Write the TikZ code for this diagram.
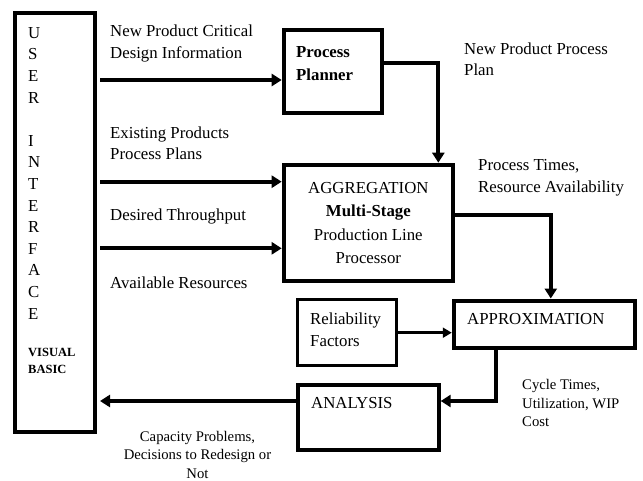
\documentclass[tikz,border=0pt]{standalone}
\usepackage{fontspec}
\setmainfont{Liberation Serif}
\usetikzlibrary{arrows.meta}
\tikzset{
  box/.style={draw, line width=4pt, inner sep=0pt},
  thinbox/.style={draw, line width=2.8pt, inner sep=0pt},
  flow/.style={line width=4pt, -{Triangle[length=10pt,width=12pt]}},
  thinflow/.style={line width=2.8pt, -{Triangle[length=9pt,width=10pt]}},
  txt/.style={inner sep=0pt, align=left, font=\fontsize{16.8}{21.6}\selectfont},
  smalltxt/.style={inner sep=0pt, font=\fontsize{14.7}{18.6}\selectfont},
}

\begin{document}
\begin{tikzpicture}[x=1pt,y=-1pt]
        \useasboundingbox (0,0) rectangle (643,481);
        % User interface column
        \node[box, minimum width=79.7pt, minimum height=419.7pt] (ui) at (55,222.6) {};
        \node[txt, anchor=north west] (uitxt) at (28,27) {U\\S\\E\\R\\[21.6pt]I\\N\\T\\E\\R\\F\\A\\C\\E};
        \node[txt, anchor=north west, font=\bfseries\fontsize{12.5}{17}\selectfont] (vbtxt) at (28,348) {VISUAL\\BASIC};
        % Process planner
        \node[box, minimum width=98.3pt, minimum height=82.7pt] (planner) at (332.85,71.65) {};
        \node[txt, anchor=north west, font=\bfseries\fontsize{16.8}{22.5}\selectfont] (plannertxt) at (296,46.5) {Process\\Planner};
        % Aggregation processor
        \node[box, minimum width=169.3pt, minimum height=116.6pt, align=center, font=\fontsize{16.8}{23.5}\selectfont] (agg) at (368.35,223) {AGGREGATION\\\textbf{Multi-Stage}\\Production Line\\Processor};
        % Reliability factors
        \node[thinbox, minimum width=98.6pt, minimum height=66pt] (rel) at (347,332.7) {};
        \node[txt, anchor=north west] (reltxt) at (310,312.7) {Reliability\\Factors};
        % Approximation
        \node[box, minimum width=181.5pt, minimum height=47.5pt] (approx) at (544.5,324.3) {};
        \node[txt, anchor=west] (approxtxt) at (467,318.8) {APPROXIMATION};
        % Analysis
        \node[box, minimum width=140.7pt, minimum height=65.6pt] (ana) at (368.35,417.5) {};
        \node[txt, anchor=west] (anatxt) at (311,403.3) {ANALYSIS};
        % Flow labels
        \node[txt, anchor=north west] (lblcrit) at (110,25) {New Product Critical\\Design Information};
        \node[txt, anchor=north west] (lblexist) at (110,126.5) {Existing Products\\Process Plans};
        \node[txt, anchor=north west] (lblthru) at (110,209) {Desired Throughput};
        \node[txt, anchor=north west] (lblres) at (110,277) {Available Resources};
        \node[txt, anchor=north west] (lblplan) at (464,42.5) {New Product Process\\Plan};
        \node[txt, anchor=north west] (lbltimes) at (478,159.5) {Process Times,\\Resource Availability};
        \node[smalltxt, align=left, anchor=north west] (lblcycle) at (522,379.3) {Cycle Times,\\Utilization, WIP\\Cost};
        \node[smalltxt, align=center, anchor=north] (lblcap) at (197.5,430.7) {Capacity Problems,\\Decisions to Redesign or\\Not};
        % Arrows
        \coordinate (in1) at (100,80);
        \coordinate (in2) at (100,181.7);
        \coordinate (in3) at (100,248.3);
        \coordinate (out1) at (100,401);
        \draw[flow] (in1) -- (in1 -| planner.west);
        \draw[flow] (in2) -- (in2 -| agg.west);
        \draw[flow] (in3) -- (in3 -| agg.west);
        \draw[flow] ([yshift=9pt]planner.east) -| ([xshift=70pt]agg.north);
        \draw[flow] ([yshift=8pt]agg.east) -| ([xshift=6.3pt]approx.north);
        \draw[thinflow] (rel.east) -- (rel.east -| approx.west);
        \draw[flow] ([xshift=-48.8pt]approx.south) |- ([yshift=16.5pt]ana.east);
        \draw[flow] ([yshift=16.5pt]ana.west) -- (out1);
\end{tikzpicture}
\end{document}
